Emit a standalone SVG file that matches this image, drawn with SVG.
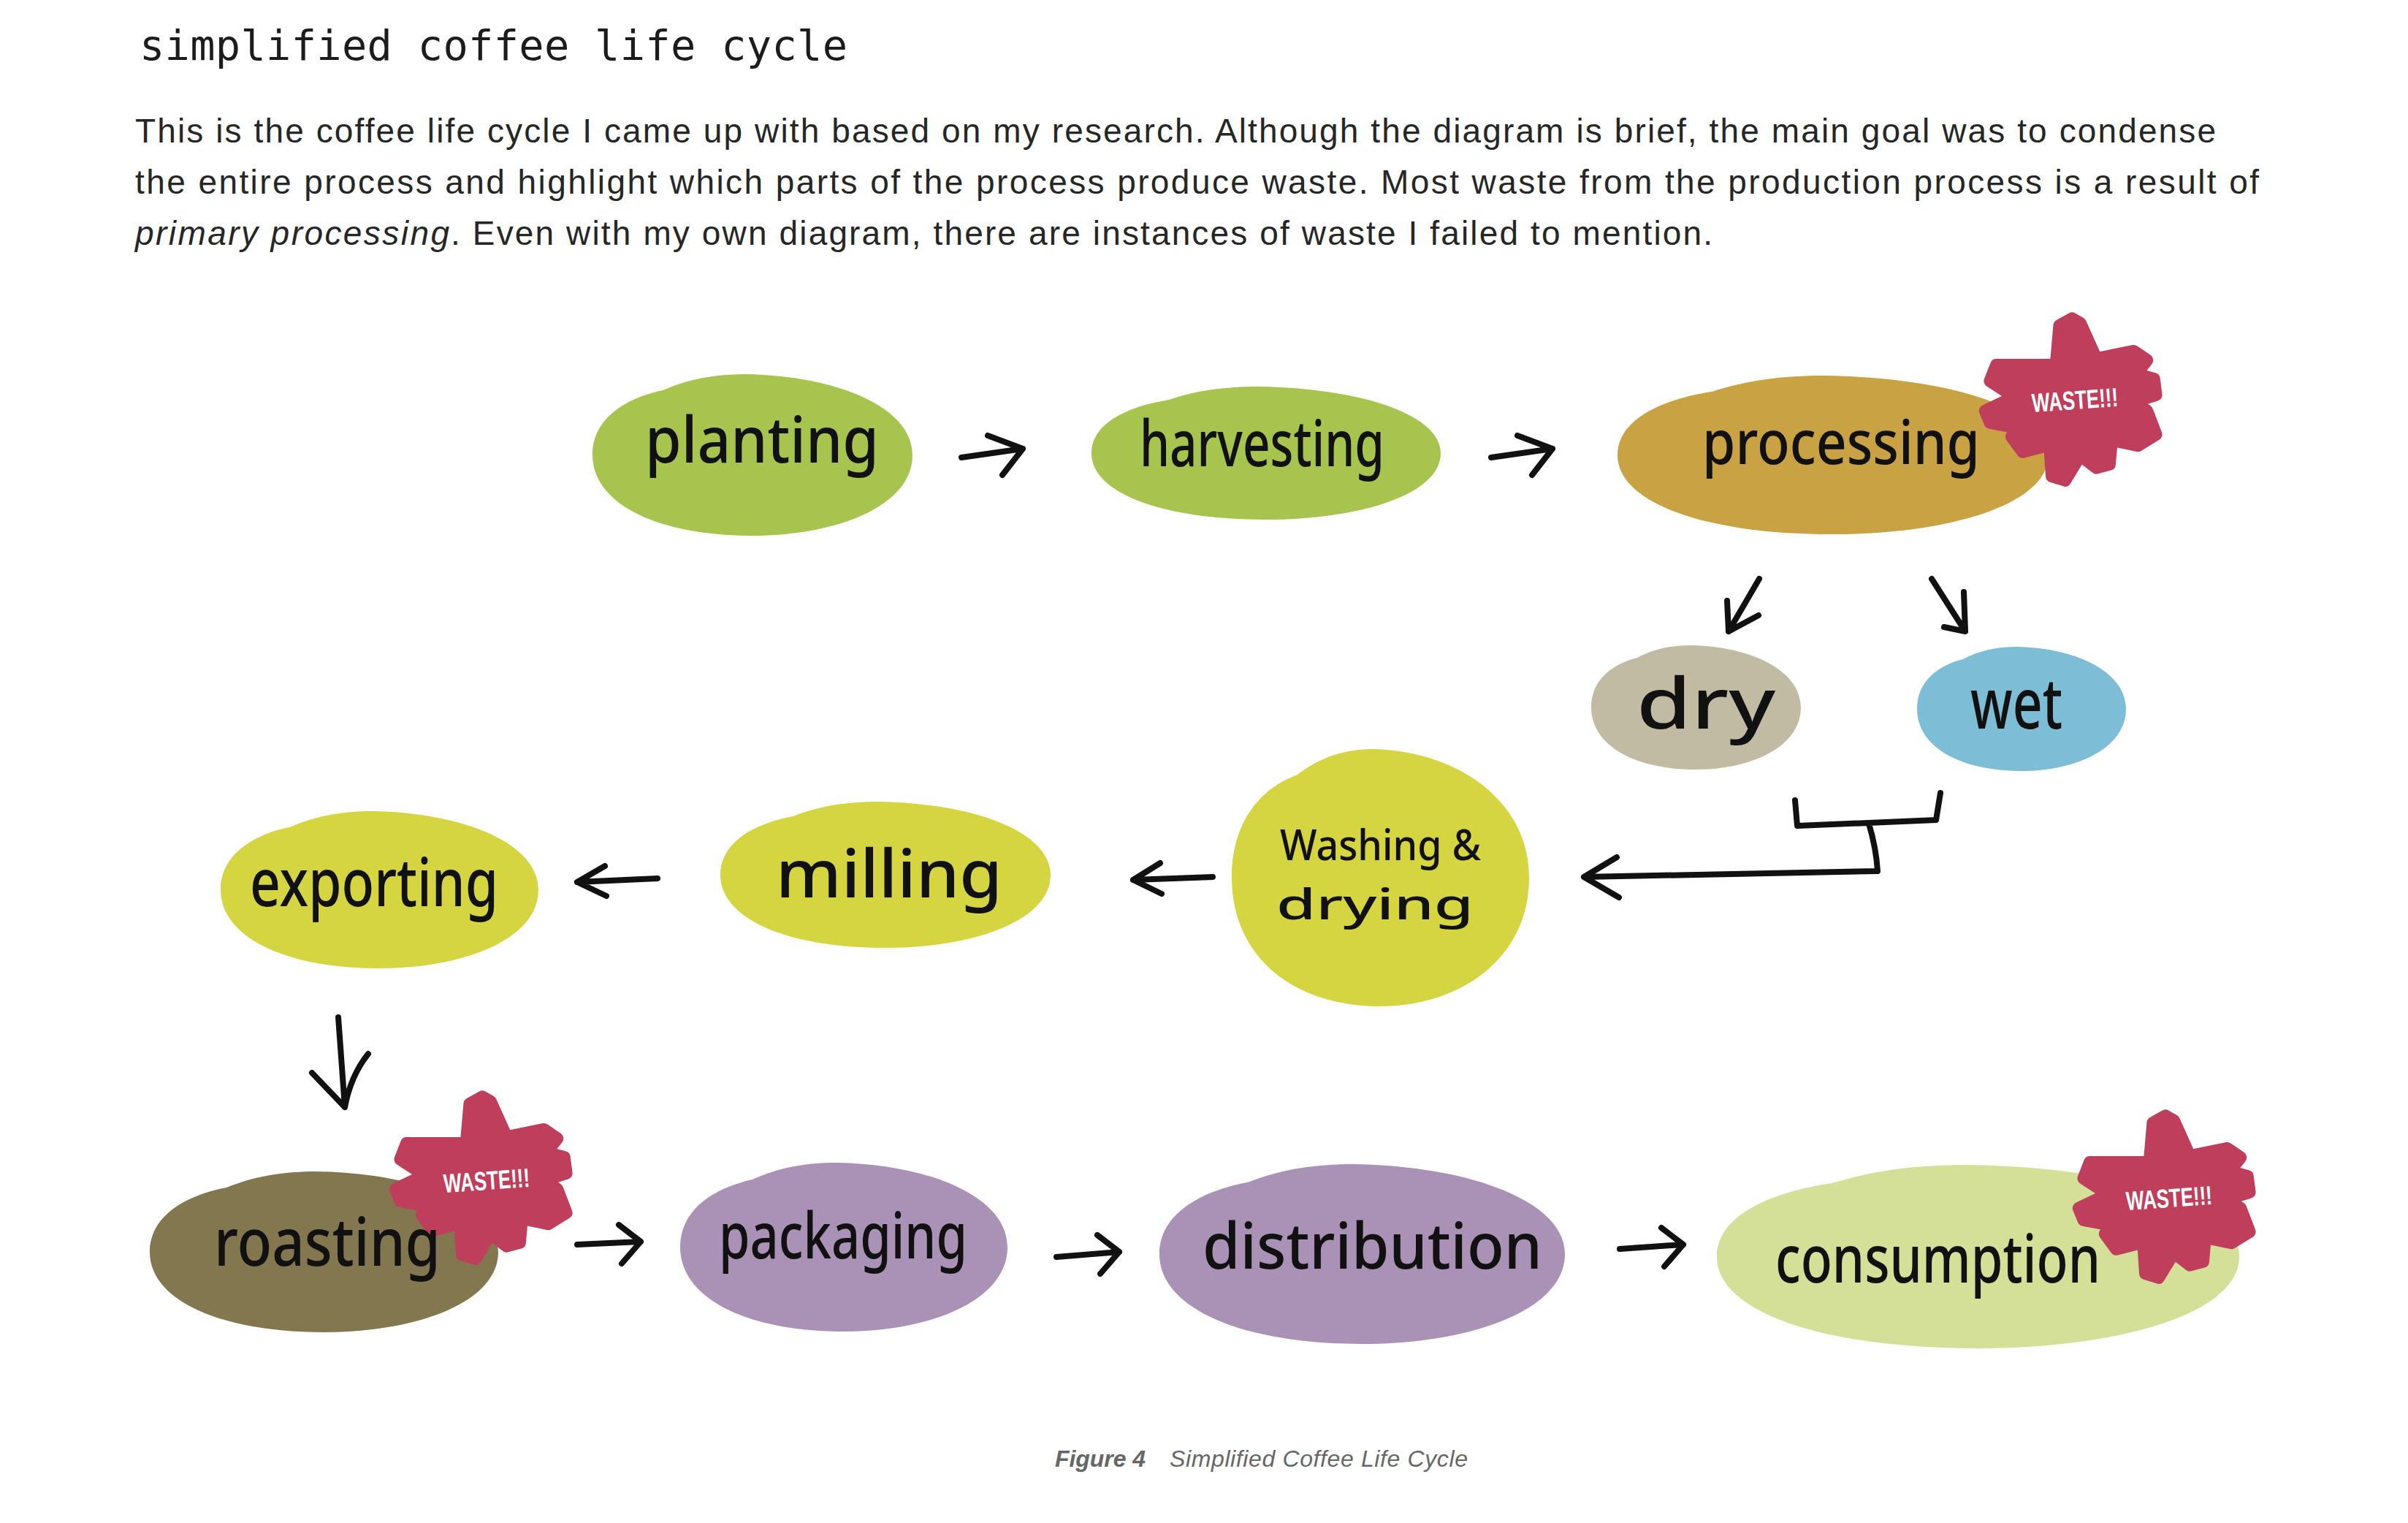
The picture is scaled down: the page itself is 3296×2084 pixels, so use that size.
<svg xmlns="http://www.w3.org/2000/svg" xmlns:xlink="http://www.w3.org/1999/xlink" width="3296" height="2084" viewBox="0 0 3296 2084">
<style>
.title{font-family:"DejaVu Sans Mono","Liberation Mono",monospace;font-size:57px;fill:#1c1c1c}
.body{font-family:"Liberation Sans","Noto Sans",sans-serif;font-size:46px;fill:#262626}
.cap{font-family:"Liberation Sans",sans-serif;font-size:32px;fill:#666;font-style:italic}
.lbl{font-family:"Noto Sans","DejaVu Sans",sans-serif;font-weight:500;fill:#111}
.waste{font-family:"Liberation Sans",sans-serif;font-size:36px;fill:#fff;font-weight:bold}
.arr{fill:none;stroke:#111;stroke-width:8;stroke-linecap:round;stroke-linejoin:round}
.star{fill:#BE3E5C;stroke:#BE3E5C;stroke-width:18;stroke-linejoin:round}
</style>
<defs>
<path id="blob" d="M 22 10 C 30 3 38 0 48 0 C 76 1 100 20 100 50 C 100 82 76 100 50 100 C 20 100 0 80 0 50 C 0 28 10 15 22 10 Z"/>
<polygon id="star" class="star" points="-25,-50 -20,-107 -2,-117 10,-110 33,-59 87,-70 106,-57 90,-37 116,-30 119,-7 87,3 106,16 119,50 93,66 55,58 52,93 33,98 10,80 -12,116 -31,110 -34,65 -73,75 -89,53 -82,40 -120,33 -127,16 -85,-4 -120,-27 -111,-50"/>
</defs>
<rect width="3296" height="2084" fill="#fff"/>

<text class="title" x="191" y="82" textLength="969">simplified coffee life cycle</text>
<text class="body" x="185" y="195" textLength="2848">This is the coffee life cycle I came up with based on my research. Although the diagram is brief, the main goal was to condense</text>
<text class="body" x="185" y="265" textLength="2907">the entire process and highlight which parts of the process produce waste. Most waste from the production process is a result of</text>
<text class="body" x="185" y="335" font-style="italic" textLength="430">primary processing</text>
<text class="body" x="617" y="335" textLength="1727">. Even with my own diagram, there are instances of waste I failed to mention.</text>

<g id="connectors">
<path class="arr" d="M1316 626 L1400 614 M1352 596 L1400 614 L1372 650"/>
<path class="arr" d="M2041 626 L2125 614 M2077 596 L2125 614 L2097 650"/>
<path class="arr" d="M2408 792 L2366 864 M2364 822 L2366 864 L2407 842"/>
<path class="arr" d="M2644 792 L2690 864 M2688 810 L2690 864 L2661 858"/>
<path class="arr" d="M2457 1095 L2460 1130 L2650 1122 L2656 1085 M2558 1127 Q2568 1160 2570 1192 L2168 1200 M2213 1173 L2168 1200 L2216 1228"/>
<path class="arr" d="M1660 1200 L1551 1204 M1588 1181 L1551 1204 L1590 1223"/>
<path class="arr" d="M900 1202 L790 1207 M828 1185 L790 1207 L830 1226"/>
<path class="arr" d="M463 1392 L472 1515 M427 1468 L472 1515 Q480 1472 504 1442"/>
<path class="arr" d="M790 1703 L877 1699 M847 1676 L877 1699 L851 1729"/>
<path class="arr" d="M1446 1720 L1532 1713 M1502 1690 L1532 1713 L1506 1743"/>
<path class="arr" d="M2217 1709 L2304 1703 M2274 1680 L2304 1703 L2278 1733"/>
</g>

<g id="planting">
<use xlink:href="#blob" href="#blob" fill="#A6C44E" transform="translate(811 512) scale(4.38 2.21)"/>
<text class="lbl" x="883" y="633" font-size="88" textLength="320" lengthAdjust="spacingAndGlyphs">planting</text>
</g>
<g id="harvesting">
<use xlink:href="#blob" href="#blob" fill="#A6C44E" transform="translate(1494 529) scale(4.78 1.82)"/>
<text class="lbl" x="1560" y="638" font-size="88" textLength="335" lengthAdjust="spacingAndGlyphs">harvesting</text>
</g>
<g id="processing">
<use xlink:href="#blob" href="#blob" fill="#C9A243" transform="translate(2214 514) scale(5.90 2.17)"/>
<use xlink:href="#star" href="#star" transform="translate(2838 547) scale(0.95)"/>
<text class="lbl" x="2330" y="635" font-size="84" textLength="380" lengthAdjust="spacingAndGlyphs">processing</text>
<text class="waste" x="2840" y="560" text-anchor="middle" textLength="118" lengthAdjust="spacingAndGlyphs" transform="rotate(-4 2840 547)">WASTE!!!</text>
</g>
<g id="dry">
<use xlink:href="#blob" href="#blob" fill="#C2BBA3" transform="translate(2178 883) scale(2.87 1.70)"/>
<text class="lbl" x="2240" y="997" font-size="96" textLength="190" lengthAdjust="spacingAndGlyphs">dry</text>
</g>
<g id="wet">
<use xlink:href="#blob" href="#blob" fill="#7DBED6" transform="translate(2624 885) scale(2.86 1.70)"/>
<text class="lbl" x="2697" y="997" font-size="96" textLength="126" lengthAdjust="spacingAndGlyphs">wet</text>
</g>
<g id="washing-drying">
<use xlink:href="#blob" href="#blob" fill="#D5D441" transform="translate(1686 1025) scale(4.07 3.52)"/>
<text class="lbl" x="1752" y="1177" font-size="58" textLength="275" lengthAdjust="spacingAndGlyphs">Washing &amp;</text>
<text class="lbl" x="1747" y="1258" font-size="58" textLength="270" lengthAdjust="spacingAndGlyphs">drying</text>
</g>
<g id="milling">
<use xlink:href="#blob" href="#blob" fill="#D5D441" transform="translate(986 1097) scale(4.52 2.00)"/>
<text class="lbl" x="1062" y="1228" font-size="90" textLength="310" lengthAdjust="spacingAndGlyphs">milling</text>
</g>
<g id="exporting">
<use xlink:href="#blob" href="#blob" fill="#D5D441" transform="translate(302 1110) scale(4.35 2.15)"/>
<text class="lbl" x="342" y="1240" font-size="90" textLength="340" lengthAdjust="spacingAndGlyphs">exporting</text>
</g>
<g id="roasting">
<use xlink:href="#blob" href="#blob" fill="#837750" transform="translate(205 1603) scale(4.77 2.20)"/>
<use xlink:href="#star" href="#star" transform="translate(662 1612) scale(0.95)"/>
<text class="lbl" x="293" y="1732" font-size="90" textLength="310" lengthAdjust="spacingAndGlyphs">roasting</text>
<text class="waste" x="666" y="1628" text-anchor="middle" textLength="118" lengthAdjust="spacingAndGlyphs" transform="rotate(-4 666 1615)">WASTE!!!</text>
</g>
<g id="packaging">
<use xlink:href="#blob" href="#blob" fill="#AA92B7" transform="translate(931 1591) scale(4.48 2.31)"/>
<text class="lbl" x="984" y="1722" font-size="88" textLength="340" lengthAdjust="spacingAndGlyphs">packaging</text>
</g>
<g id="distribution">
<use xlink:href="#blob" href="#blob" fill="#AA92B7" transform="translate(1587 1593) scale(5.55 2.46)"/>
<text class="lbl" x="1646" y="1736" font-size="88" textLength="465" lengthAdjust="spacingAndGlyphs">distribution</text>
</g>
<g id="consumption">
<use xlink:href="#blob" href="#blob" fill="#D4E097" transform="translate(2350 1594) scale(7.15 2.51)"/>
<use xlink:href="#star" href="#star" transform="translate(2966 1638) scale(0.95)"/>
<text class="lbl" x="2430" y="1755" font-size="90" textLength="445" lengthAdjust="spacingAndGlyphs">consumption</text>
<text class="waste" x="2969" y="1652" text-anchor="middle" textLength="118" lengthAdjust="spacingAndGlyphs" transform="rotate(-4 2969 1640)">WASTE!!!</text>
</g>

<text class="cap" x="1444" y="2007" font-weight="bold" textLength="124">Figure 4</text>
<text class="cap" x="1601" y="2007" textLength="408">Simplified Coffee Life Cycle</text>
</svg>
